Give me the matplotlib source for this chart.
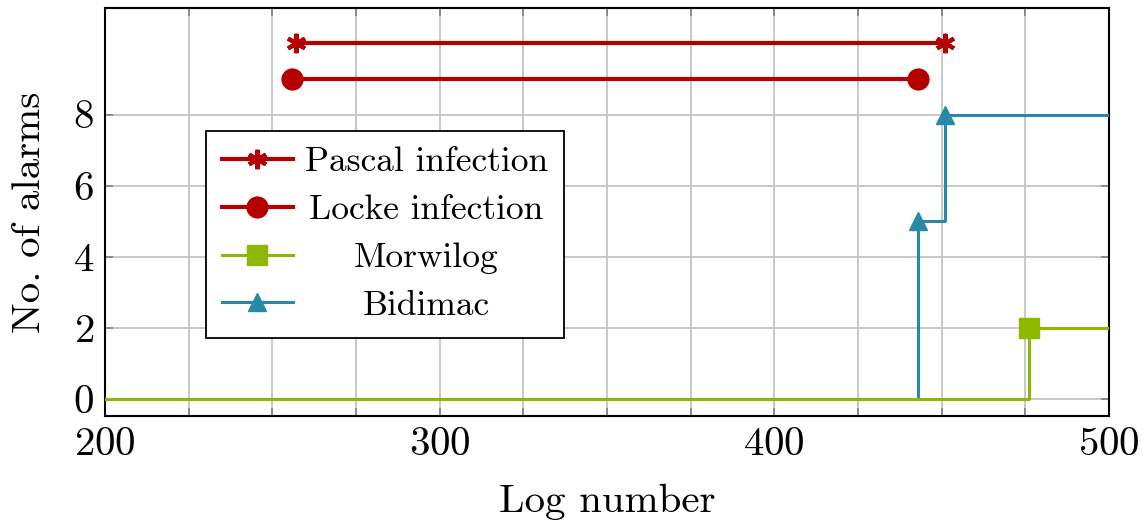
import matplotlib
matplotlib.use('Agg')
import matplotlib.pyplot as plt
from matplotlib.ticker import MultipleLocator

plt.rcParams['font.family'] = 'serif'
plt.rcParams['font.serif'] = ['cmr10']
plt.rcParams['mathtext.fontset'] = 'cm'
plt.rcParams['axes.formatter.use_mathtext'] = True

# alarm series (log number vs. number of alarms)
pascal_x = [257, 451]
pascal_y = [10, 10]
locke_x = [256, 443]
locke_y = [9, 9]
morwilog_x = [200, 476, 500]
morwilog_y = [0, 2, 2]
bidimac_x = [200, 443, 451, 500]
bidimac_y = [0, 5, 8, 8]

labels = ['Pascal infection', 'Locke infection', 'Morwilog', 'Bidimac']
red = '#B40000'
green = '#8CB800'
blue = '#2788A8'

fig = plt.figure(figsize=(11.48, 5.24), dpi=100)
ax = fig.add_axes([0.0915, 0.206, 0.8745, 0.779])

l1, = ax.plot(pascal_x, pascal_y, color=red, lw=3.0, marker=(6, 2, 0),
              ms=14, mew=3.0, zorder=5)
l2, = ax.plot(locke_x, locke_y, color=red, lw=3.0, marker='o', ms=15,
              zorder=5)
l4, = ax.plot(bidimac_x, bidimac_y, color=blue, lw=2.2, drawstyle='steps-post',
              marker='^', ms=13, markevery=[1, 2], zorder=3)
l3, = ax.plot(morwilog_x, morwilog_y, color=green, lw=2.2, drawstyle='steps-post',
              marker='s', ms=14, markevery=[1], zorder=4)

ax.set_xlim(200, 500)
ax.set_ylim(-0.48, 11)
ax.xaxis.set_major_locator(MultipleLocator(100))
ax.xaxis.set_minor_locator(MultipleLocator(25))
ax.set_yticks([0, 2, 4, 6, 8])
ax.grid(True, which='both', color='#c4c4c4', lw=1.3)
ax.set_axisbelow(True)
ax.tick_params(which='both', direction='in', top=True, right=True,
               length=6, width=1.2, color='#808080', labelsize=29.5, pad=8)
for s in ax.spines.values():
    s.set_linewidth(1.5)

ax.set_xlabel('Log number', fontsize=29.5, labelpad=15)
ax.set_ylabel('No. of alarms', fontsize=29.5, labelpad=18)

leg = ax.legend([l1, l2, l3, l4], labels, loc='upper left',
                bbox_to_anchor=(0.1006, 0.699), fontsize=25.5, frameon=True,
                fancybox=False, edgecolor='black', framealpha=1,
                handlelength=2.0, handletextpad=0.34, labelspacing=0.45,
                borderpad=0.45, borderaxespad=0)
leg.get_frame().set_linewidth(1.3)

# centre the legend labels within the text column (sep is in points)
renderer = fig.canvas.get_renderer()
texts = leg.get_texts()
widths = [t.get_window_extent(renderer).width * 72 / fig.dpi for t in texts]
rows = leg._legend_handle_box.get_children()[0].get_children()
for row, w in zip(rows, widths):
    row.sep += (max(widths) - w) / 2

fig.savefig('out.png', dpi=100)
